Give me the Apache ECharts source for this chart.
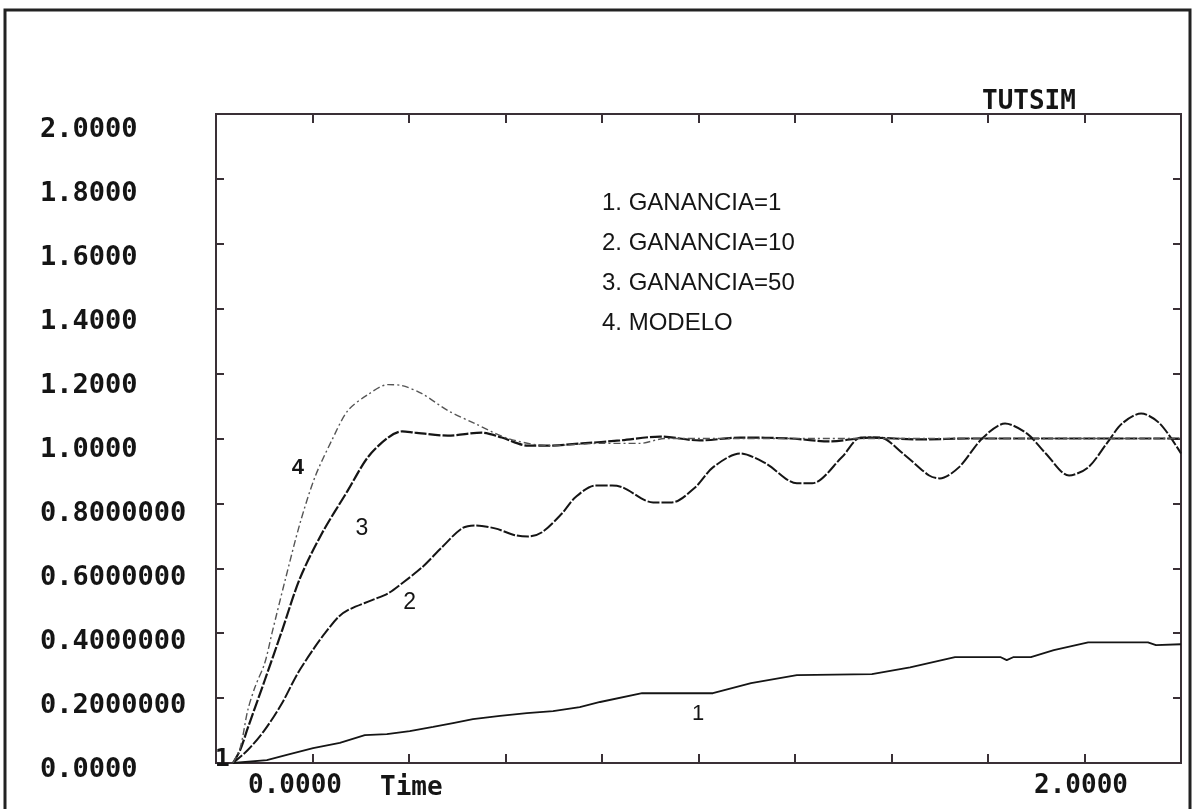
<!DOCTYPE html>
<html>
<head>
<meta charset="utf-8">
<script src="https://cdn.jsdelivr.net/npm/echarts@6/dist/echarts.min.js"></script>
<style>
html,body{margin:0;padding:0;background:#fff;}
#chart{width:1193px;height:809px;}
</style>
</head>
<body>
<div id="chart"></div>
<script>
// ---- data (time, value) ----
const t1 = [0,0.080,0.127,0.189,0.252,0.311,0.363,0.417,0.472,0.519,0.566,0.630,0.693,0.755,0.818,0.866,0.965,1.017,1.132,1.222,1.330,1.507,1.597,1.703,1.811,1.825,1.840,1.882,1.936,2.017,2.158,2.177,2.236];
const v1 = [0,0.009,0.025,0.046,0.062,0.086,0.089,0.098,0.111,0.123,0.135,0.145,0.154,0.160,0.172,0.188,0.215,0.215,0.215,0.246,0.271,0.274,0.295,0.326,0.326,0.317,0.326,0.326,0.348,0.372,0.372,0.363,0.366];

const t2 = [0,0.035,0.075,0.116,0.153,0.193,0.217,0.248,0.271,0.328,0.366,0.399,0.446,0.493,0.540,0.571,0.618,0.665,0.696,0.729,0.776,0.807,0.854,0.894,0.920,0.991,1.035,1.090,1.132,1.196,1.257,1.330,1.366,1.436,1.481,1.526,1.580,1.642,1.667,1.712,1.767,1.821,1.873,1.917,1.972,2.017,2.061,2.097,2.142,2.186,2.236];
const v2 = [0,0.040,0.102,0.185,0.277,0.357,0.400,0.449,0.471,0.502,0.523,0.554,0.603,0.665,0.723,0.732,0.723,0.702,0.698,0.711,0.769,0.818,0.855,0.855,0.849,0.803,0.803,0.849,0.911,0.954,0.923,0.862,0.862,0.942,1.003,1.003,0.954,0.886,0.877,0.911,1.000,1.046,1.015,0.954,0.886,0.911,0.985,1.046,1.077,1.046,0.954];

const t3 = [0,0.017,0.035,0.075,0.116,0.158,0.210,0.271,0.318,0.366,0.399,0.429,0.507,0.587,0.634,0.696,0.743,0.823,0.913,1.007,1.101,1.196,1.314,1.408,1.502,1.620,1.738,2.236];
const v3 = [0,0.040,0.108,0.255,0.409,0.569,0.708,0.840,0.942,1.003,1.022,1.018,1.009,1.018,1.003,0.978,0.978,0.985,0.994,1.006,0.994,1.003,1.000,0.991,1.003,0.997,1.000,1.000];

const t4 = [0,0.017,0.035,0.052,0.075,0.092,0.123,0.158,0.193,0.233,0.271,0.318,0.366,0.399,0.446,0.507,0.571,0.649,0.743,0.866,0.960,1.019,2.236];
const v4 = [0,0.046,0.163,0.234,0.308,0.400,0.563,0.738,0.880,0.994,1.086,1.135,1.166,1.163,1.138,1.086,1.046,1.000,0.978,0.985,0.985,1.000,1.000];

const seriesNames = ['1. GANANCIA=1','2. GANANCIA=10','3. GANANCIA=50','4. MODELO'];
const yTickLabels = ['0.0000','0.2000000','0.4000000','0.6000000','0.8000000','1.0000','1.2000','1.4000','1.6000','1.8000','2.0000'];
const xTickLabels = ['0.0000','2.0000'];
const xAxisName = 'Time';
const chartTitle = 'TUTSIM';
// curve number annotations [time, value]
const tag1 = [1.097, 0.150];
const tag1origin = [-0.025, 0.010];
const tag2 = [0.417, 0.495];
const tag3 = [0.304, 0.723];
const tag4 = [0.153, 0.908];

const pair = (t, v) => t.map((x, i) => [x, v[i]]);

const pixFont = 'DejaVu Sans Mono';
const txtFont = 'Liberation Sans';
const ink = '#151515';
const frame = '#3a3036';

function tag(name, coord, font, size, weight) {
  return {
    symbol: 'circle', symbolSize: 0, silent: true, animation: false,
    data: [{ coord: coord, value: name }],
    label: { show: true, position: 'inside', formatter: name, color: ink,
             fontFamily: font, fontSize: size, fontWeight: weight || 'normal' }
  };
}

const noLine = { show: false, onZero: false };
const tickStyle = { color: frame, width: 2 };

const chart = echarts.init(document.getElementById('chart'), null, { renderer: 'canvas' });
chart.setOption({
  animation: false,
  backgroundColor: '#ffffff',
  title: {
    text: chartTitle, left: 977, top: 84,
    textStyle: { fontFamily: pixFont, fontWeight: 'bold', fontSize: 26, color: ink }
  },
  legend: {
    data: seriesNames, orient: 'vertical', left: 591, top: 183,
    itemWidth: 0, itemHeight: 0, itemGap: 10, selectedMode: false,
    textStyle: { fontFamily: txtFont, fontSize: 24, color: ink, lineHeight: 30 }
  },
  grid: [
    { left: 216, right: 12, top: 114, bottom: 46, show: true, borderColor: frame, borderWidth: 2, backgroundColor: 'transparent' },
    { left: 295, right: 112, top: 130, bottom: 39, show: false }
  ],
  xAxis: [
    { type: 'value', gridIndex: 0, min: -0.04, max: 2.236,
      axisLine: noLine, axisTick: { show: false }, axisLabel: { show: false }, splitLine: { show: false } },
    { type: 'value', gridIndex: 0, min: 0, max: 10, interval: 1, position: 'bottom',
      axisLine: noLine, axisTick: { show: true, inside: true, length: 9, lineStyle: tickStyle },
      axisLabel: { show: false }, splitLine: { show: false } },
    { type: 'value', gridIndex: 0, min: 0, max: 10, interval: 1, position: 'top',
      axisLine: noLine, axisTick: { show: true, inside: true, length: 9, lineStyle: tickStyle },
      axisLabel: { show: false }, splitLine: { show: false } },
    { type: 'value', gridIndex: 1, min: 0, max: 2, interval: 2, position: 'bottom',
      axisLine: noLine, axisTick: { show: false }, splitLine: { show: false },
      axisLabel: { show: true, margin: 3, verticalAlign: 'top', color: ink, fontFamily: pixFont, fontWeight: 'bold', fontSize: 26,
        formatter: v => xTickLabels[Math.round(v / 2)] ?? '' } }
  ],
  yAxis: [
    { type: 'value', gridIndex: 0, min: 0, max: 2, interval: 0.2, position: 'left',
      axisLine: noLine, axisTick: { show: true, inside: true, length: 8, lineStyle: tickStyle },
      axisLabel: { show: false }, splitLine: { show: false } },
    { type: 'value', gridIndex: 0, min: 0, max: 2, interval: 0.2, position: 'right',
      axisLine: noLine, axisTick: { show: true, inside: true, length: 8, lineStyle: tickStyle },
      axisLabel: { show: false }, splitLine: { show: false } },
    { type: 'value', gridIndex: 1, min: 0, max: 2, interval: 0.2, position: 'left',
      axisLine: noLine, axisTick: { show: false }, splitLine: { show: false },
      axisLabel: { show: true, align: 'left', margin: 255, color: ink, fontFamily: pixFont, fontWeight: 'bold', fontSize: 27,
        formatter: v => yTickLabels[Math.round(v / 0.2)] ?? '' } }
  ],
  graphic: [
    { type: 'rect', shape: { x: 5, y: 10, width: 1185, height: 830 }, style: { fill: 'none', stroke: '#222', lineWidth: 3 }, silent: true },
    { type: 'text', left: 380, top: 775, style: { text: xAxisName, fill: ink, font: 'bold 26px "DejaVu Sans Mono"' }, silent: true }
  ],
  series: [
    { name: seriesNames[0], type: 'line', xAxisIndex: 0, yAxisIndex: 0, data: pair(t1, v1), showSymbol: false,
      lineStyle: { color: ink, width: 1.8 }, itemStyle: { color: ink },
      markPoint: { symbol: 'circle', symbolSize: 0, silent: true,
        data: [{ coord: tag1, value: '1', label: { fontFamily: txtFont, fontSize: 22, fontWeight: 'normal' } },
               { coord: tag1origin, value: '1', label: { fontFamily: pixFont, fontSize: 25, fontWeight: 'bold' } }],
        label: { show: true, position: 'inside', formatter: '1', color: ink } } },
    { name: seriesNames[1], type: 'line', xAxisIndex: 0, yAxisIndex: 0, data: pair(t2, v2), showSymbol: false, smooth: 0.3,
      lineStyle: { color: ink, width: 2, type: [12, 2] }, itemStyle: { color: ink },
      markPoint: tag('2', tag2, txtFont, 23) },
    { name: seriesNames[2], type: 'line', xAxisIndex: 0, yAxisIndex: 0, data: pair(t3, v3), showSymbol: false, smooth: 0.3,
      lineStyle: { color: ink, width: 2.2, type: [12, 2] }, itemStyle: { color: ink },
      markPoint: tag('3', tag3, txtFont, 23) },
    { name: seriesNames[3], type: 'line', xAxisIndex: 0, yAxisIndex: 0, data: pair(t4, v4), showSymbol: false, smooth: 0.3,
      lineStyle: { color: '#555', width: 1.4, type: [7, 3, 2, 3] }, itemStyle: { color: '#555' },
      markPoint: tag('4', tag4, txtFont, 22, 'bold') }
  ]
});
</script>
</body>
</html>
